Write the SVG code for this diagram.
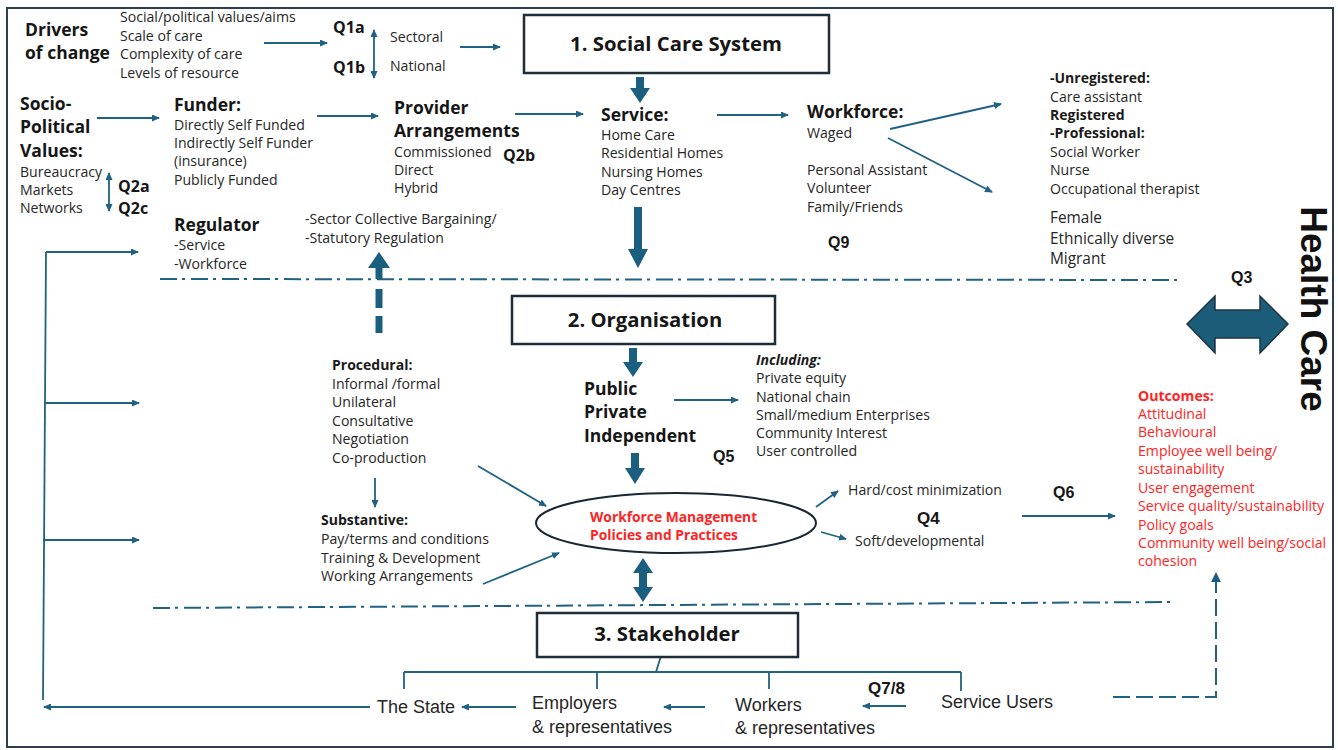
<svg xmlns="http://www.w3.org/2000/svg" width="1338" height="750" viewBox="0 0 1338 750">
<style>
text { font-family: "Open Sans", "Liberation Sans", sans-serif; fill: #262626; }
.t { font-size: 14.1px; }
.tb { font-size: 14px; font-weight: 700; fill: #1a1a1a; }
.h { font-size: 17.5px; font-weight: 700; fill: #161616; }
.q { font-size: 16px; font-weight: 700; fill: #161616; }
.qa { font-family: "Liberation Sans", Arial, sans-serif; font-size: 16px; font-weight: 700; fill: #161616; }
.bx { font-size: 20.3px; font-weight: 700; fill: #161616; }
.m { font-size: 15.4px; }
.red { fill: #ff2424; }
.redb { fill: #ff2424; font-weight: 700; }
.st { font-family: "Liberation Sans", Arial, sans-serif; font-size: 18px; fill: #262626; }
.ln { stroke: #1f6283; stroke-width: 1.8; fill: none; }
.arr { stroke: #1f6283; stroke-width: 1.8; fill: none; marker-end: url(#ah); }
.dbl { stroke: #1f6283; stroke-width: 1.8; fill: none; marker-end: url(#ah); marker-start: url(#ah); }
.thick { fill: #1b5f80; }
.dd { stroke: #1f6283; stroke-width: 2; fill: none; stroke-dasharray: 17 5 3 6; }
.box { fill: #ffffff; stroke: #1e2d3a; stroke-width: 2.5; }
</style>
<defs>
<marker id="ah" viewBox="0 0 8 7" refX="7" refY="3.5" markerWidth="8" markerHeight="7" markerUnits="userSpaceOnUse" orient="auto-start-reverse">
<path d="M0,0 L8,3.5 L0,7 z" fill="#1f6283"/>
</marker>
</defs>
<rect x="0" y="0" width="1338" height="750" fill="#ffffff"/>
<rect x="7" y="8" width="1326" height="739" fill="none" stroke="#2c3e50" stroke-width="2"/>

<g id="connectors">
<line class="arr" x1="264" y1="43" x2="327" y2="43"/>
<line class="dbl" x1="374" y1="30" x2="374" y2="78"/>
<line class="arr" x1="460" y1="47" x2="500" y2="47"/>
<line class="arr" x1="97" y1="118" x2="159" y2="118"/>
<line class="dbl" x1="109" y1="173" x2="109" y2="211"/>
<line class="arr" x1="317" y1="116" x2="378" y2="116"/>
<line class="arr" x1="515" y1="114" x2="583" y2="114"/>
<line class="arr" x1="717" y1="115" x2="788" y2="115"/>
<line class="arr" x1="890" y1="129" x2="1001" y2="104"/>
<line class="arr" x1="888" y1="138" x2="992" y2="192"/>
<polygon class="thick" points="636,77 644,77 644,88 650,88 640,103 630,88 636,88"/>
<polygon class="thick" points="634,207 642,207 642,249 648,249 638,268 628,249 634,249"/>
<polygon class="thick" points="379,252 390,268 368,268"/>
<rect class="thick" x="375.5" y="267" width="7" height="12"/>
<rect class="thick" x="375.5" y="289" width="7" height="19"/>
<rect class="thick" x="375.5" y="316" width="7" height="17"/>
<line class="dd" x1="160" y1="279" x2="1183" y2="280"/>
<line class="dd" x1="153" y1="608" x2="1175" y2="602"/>
<polyline class="ln" points="43,700 46,252"/>
<line class="arr" x1="46" y1="252" x2="138" y2="252"/>
<line class="arr" x1="45" y1="403" x2="139" y2="403"/>
<line class="arr" x1="43" y1="540" x2="139" y2="540"/>
<polygon class="thick" points="629,348 637,348 637,362 643,362 633,377 623,362 629,362"/>
<polygon class="thick" points="631,453 639,453 639,468 645,468 635,484 625,468 631,468"/>
<line class="arr" x1="674" y1="400" x2="738" y2="400"/>
<line class="arr" x1="375" y1="478" x2="375" y2="507"/>
<line class="arr" x1="478" y1="466" x2="546" y2="506"/>
<line class="arr" x1="483" y1="584" x2="559" y2="553"/>
<line class="arr" x1="816" y1="507" x2="838" y2="491"/>
<line class="arr" x1="821" y1="532" x2="846" y2="539"/>
<line class="arr" x1="1022" y1="516" x2="1115" y2="516"/>
<polygon class="thick" points="643,558 653,573 647,573 647,587 653,587 643,602 633,587 639,587 639,573 633,573"/>
<polygon points="1187,324 1215,296 1215,310 1260,310 1260,296 1288,324 1260,353 1260,338 1215,338 1215,353" fill="#1b5c78" stroke="#1d3445" stroke-width="1.5"/>
<path d="M1113,697 L1216,697 L1216,581" stroke="#1f6283" stroke-width="2" fill="none" stroke-dasharray="17 6"/>
<polygon class="thick" points="1216,572 1221,582 1211,582"/>
<line class="ln" x1="661" y1="656" x2="656" y2="672"/>
<line class="ln" x1="404" y1="672" x2="961" y2="672"/>
<line class="ln" x1="404" y1="672" x2="404" y2="689"/>
<line class="ln" x1="597" y1="672" x2="597" y2="689"/>
<line class="ln" x1="769" y1="672" x2="769" y2="689"/>
<line class="ln" x1="961" y1="672" x2="961" y2="691"/>
<line class="arr" x1="370" y1="707" x2="44" y2="707"/>
<line class="arr" x1="516" y1="707" x2="462" y2="707"/>
<line class="arr" x1="705" y1="707" x2="664" y2="707"/>
<line class="arr" x1="906" y1="706" x2="863" y2="706"/>
</g>

<g id="drivers">
<text class="h" x="25" y="36">Drivers</text>
<text class="h" x="25" y="59">of change</text>
<text class="t" x="120" y="22">Social/political values/aims</text>
<text class="t" x="120" y="41">Scale of care</text>
<text class="t" x="120" y="59">Complexity of care</text>
<text class="t" x="120" y="78">Levels of resource</text>
</g>
<g id="q1">
<text class="q" x="333" y="33">Q1a</text>
<text class="q" x="333" y="73">Q1b</text>
<text class="t" x="390" y="42">Sectoral</text>
<text class="t" x="390" y="71">National</text>
</g>
<g id="social-care-system">
<rect class="box" x="524" y="15" width="305" height="58"/>
<text class="bx" x="676" y="51" text-anchor="middle">1. Social Care System</text>
</g>
<g id="socio-political">
<text class="h" x="20" y="110">Socio-</text>
<text class="h" x="20" y="133">Political</text>
<text class="h" x="20" y="157">Values:</text>
<text class="t" x="20" y="177">Bureaucracy</text>
<text class="t" x="20" y="195">Markets</text>
<text class="t" x="20" y="213">Networks</text>
<text class="q" x="118" y="192">Q2a</text>
<text class="q" x="118" y="214">Q2c</text>
</g>
<g id="funder">
<text class="h" x="174" y="111">Funder:</text>
<text class="t" x="174" y="130">Directly Self Funded</text>
<text class="t" x="174" y="148">Indirectly Self Funder</text>
<text class="t" x="174" y="166">(insurance)</text>
<text class="t" x="174" y="185">Publicly Funded</text>
</g>
<g id="provider">
<text class="h" x="394" y="114">Provider</text>
<text class="h" x="394" y="137">Arrangements</text>
<text class="t" x="394" y="157">Commissioned</text>
<text class="t" x="394" y="175">Direct</text>
<text class="t" x="394" y="193">Hybrid</text>
<text class="q" x="503" y="161">Q2b</text>
</g>
<g id="service">
<text class="h" x="601" y="121">Service:</text>
<text class="t" x="601" y="140">Home Care</text>
<text class="t" x="601" y="158">Residential Homes</text>
<text class="t" x="601" y="177">Nursing Homes</text>
<text class="t" x="601" y="195">Day Centres</text>
</g>
<g id="workforce">
<text class="h" x="807" y="118">Workforce:</text>
<text class="t" x="807" y="138">Waged</text>
<text class="t" x="807" y="175">Personal Assistant</text>
<text class="t" x="807" y="193">Volunteer</text>
<text class="t" x="807" y="212">Family/Friends</text>
<text class="qa" x="828" y="248">Q9</text>
</g>
<g id="roles">
<text class="tb" x="1050" y="83">-Unregistered:</text>
<text class="t" x="1050" y="102">Care assistant</text>
<text class="tb" x="1050" y="120">Registered</text>
<text class="tb" x="1050" y="138">-Professional:</text>
<text class="t" x="1050" y="157">Social Worker</text>
<text class="t" x="1050" y="175">Nurse</text>
<text class="t" x="1050" y="194">Occupational therapist</text>
<text class="m" x="1050" y="223">Female</text>
<text class="m" x="1050" y="244">Ethnically diverse</text>
<text class="m" x="1050" y="264">Migrant</text>
</g>
<g id="regulator">
<text class="h" x="174" y="231">Regulator</text>
<text class="t" x="174" y="250">-Service</text>
<text class="t" x="174" y="269">-Workforce</text>
<text class="t" x="305" y="224">-Sector Collective Bargaining/</text>
<text class="t" x="305" y="243">-Statutory Regulation</text>
</g>
<g id="health-care">
<text class="qa" x="1231" y="283">Q3</text>
<text transform="translate(1301,309) rotate(90)" text-anchor="middle" style="font-family:'Liberation Sans',Arial,sans-serif;font-size:37px;font-weight:700;fill:#111">Health Care</text>
</g>
<g id="organisation">
<rect class="box" x="512" y="296" width="263" height="48"/>
<text class="bx" x="645" y="327" text-anchor="middle">2. Organisation</text>
</g>
<g id="ownership">
<text class="h" x="584" y="395">Public</text>
<text class="h" x="584" y="418">Private</text>
<text class="h" x="584" y="442">Independent</text>
<text class="qa" x="713" y="462">Q5</text>
<text class="tb" x="756" y="365" font-style="italic">Including:</text>
<text class="t" x="756" y="383">Private equity</text>
<text class="t" x="756" y="402">National chain</text>
<text class="t" x="756" y="420">Small/medium Enterprises</text>
<text class="t" x="756" y="438">Community Interest</text>
<text class="t" x="756" y="456">User controlled</text>
</g>
<g id="procedural">
<text class="tb" x="332" y="370">Procedural:</text>
<text class="t" x="332" y="389">Informal /formal</text>
<text class="t" x="332" y="407">Unilateral</text>
<text class="t" x="332" y="426">Consultative</text>
<text class="t" x="332" y="444">Negotiation</text>
<text class="t" x="332" y="463">Co-production</text>
</g>
<g id="substantive">
<text class="tb" x="321" y="525">Substantive:</text>
<text class="t" x="321" y="544">Pay/terms and conditions</text>
<text class="t" x="321" y="563">Training &amp; Development</text>
<text class="t" x="321" y="581">Working Arrangements</text>
</g>
<g id="wmpp">
<ellipse cx="676" cy="523" rx="140" ry="30" fill="none" stroke="#1a2733" stroke-width="2"/>
<text class="t redb" x="590" y="522" style="font-size:13.8px">Workforce Management</text>
<text class="t redb" x="590" y="540" style="font-size:13.8px">Policies and Practices</text>
</g>
<g id="hrm">
<text class="t" x="848" y="495">Hard/cost minimization</text>
<text class="qa" x="917" y="524" style="font-size:17px">Q4</text>
<text class="t" x="855" y="546">Soft/developmental</text>
<text class="qa" x="1053" y="498">Q6</text>
</g>
<g id="outcomes">
<text class="t redb" x="1138" y="401">Outcomes:</text>
<text class="t red" x="1138" y="419">Attitudinal</text>
<text class="t red" x="1138" y="437">Behavioural</text>
<text class="t red" x="1138" y="456">Employee well being/</text>
<text class="t red" x="1138" y="474">sustainability</text>
<text class="t red" x="1138" y="493">User engagement</text>
<text class="t red" x="1138" y="511">Service quality/sustainability</text>
<text class="t red" x="1138" y="530">Policy goals</text>
<text class="t red" x="1138" y="548">Community well being/social</text>
<text class="t red" x="1138" y="566">cohesion</text>
</g>
<g id="stakeholder">
<rect class="box" x="537" y="613" width="261" height="44"/>
<text class="bx" x="667" y="641" text-anchor="middle">3. Stakeholder</text>
</g>
<g id="stakeholders">
<text class="st" x="377" y="713">The State</text>
<text class="st" x="532" y="709">Employers</text>
<text class="st" x="532" y="733">&amp; representatives</text>
<text class="st" x="735" y="711">Workers</text>
<text class="st" x="735" y="734">&amp; representatives</text>
<text class="qa" x="868" y="694" style="font-size:17px">Q7/8</text>
<text class="st" x="941" y="708">Service Users</text>
</g>
</svg>
